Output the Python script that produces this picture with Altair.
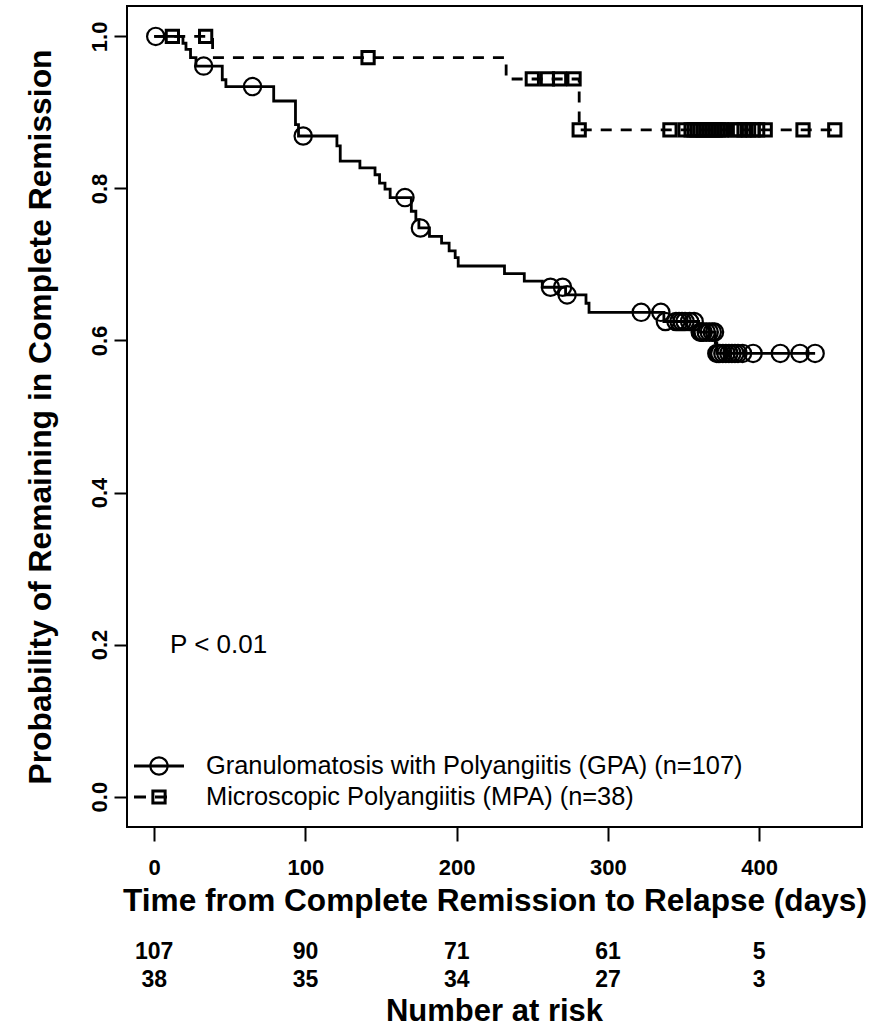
import altair as alt
import pandas as pd

# ---------------- data ----------------
# GPA Kaplan-Meier step curve
gpa_time = [0, 19, 21, 24, 27.6, 45, 47.4, 79, 93.4, 95.4, 120.8, 123, 136, 146, 149,
            152.6, 156, 170, 173, 175, 182, 190, 195, 199, 201, 231.6, 244.7, 256.6,
            272, 285.5, 287.5, 337, 360, 371, 372, 437]
gpa_surv = [1.0, 0.991, 0.983, 0.972, 0.961, 0.943, 0.934, 0.915, 0.884, 0.869, 0.856,
            0.836, 0.827, 0.818, 0.807, 0.799, 0.788, 0.770, 0.759, 0.748, 0.737, 0.728,
            0.718, 0.709, 0.698, 0.688, 0.678, 0.670, 0.660, 0.649, 0.637, 0.625, 0.611,
            0.597, 0.583, 0.583]
# GPA censored observations
gpa_cens_time = [1, 32.7, 65, 98.5, 165.8, 176, 262, 270, 273, 322, 335, 338, 345, 347,
                 349, 351, 354, 357, 361, 362, 363, 365, 367, 369, 370.5, 372, 373, 374,
                 376, 378, 380, 382, 384, 386, 389, 396, 414, 427, 437]
gpa_cens_surv = [1.0, 0.961, 0.934, 0.869, 0.788, 0.748, 0.670, 0.670, 0.660, 0.637,
                 0.637, 0.625, 0.625, 0.625, 0.625, 0.625, 0.625, 0.625, 0.611, 0.611,
                 0.611, 0.611, 0.611, 0.611, 0.611, 0.583, 0.583, 0.583, 0.583, 0.583,
                 0.583, 0.583, 0.583, 0.583, 0.583, 0.583, 0.583, 0.583, 0.583]

# MPA Kaplan-Meier step curve
mpa_time = [0, 38.6, 232.7, 281, 450]
mpa_surv = [1.0, 0.972, 0.944, 0.877, 0.877]
# MPA censored observations
mpa_cens_time = [12, 34, 141.4, 250, 260, 268, 277.6, 281, 341, 351, 355, 357, 359, 361,
                 363, 365, 367, 369, 371, 373, 375, 377, 384, 387, 390, 393, 396, 399,
                 404, 429, 450]
mpa_cens_surv = [1.0, 1.0, 0.972, 0.944, 0.944, 0.944, 0.944, 0.877, 0.877, 0.877, 0.877,
                 0.877, 0.877, 0.877, 0.877, 0.877, 0.877, 0.877, 0.877, 0.877, 0.877,
                 0.877, 0.877, 0.877, 0.877, 0.877, 0.877, 0.877, 0.877, 0.877, 0.877]

# Number at risk
risk_times = [0, 100, 200, 300, 400]
gpa_risk = [107, 90, 71, 61, 5]
mpa_risk = [38, 35, 34, 27, 3]

x_ticks = [0, 100, 200, 300, 400]
y_ticks = [0.0, 0.2, 0.4, 0.6, 0.8, 1.0]

legend_labels = ["Granulomatosis with Polyangiitis (GPA) (n=107)",
                 "Microscopic Polyangiitis (MPA) (n=38)"]
p_text = ["P < 0.01"]
p_pos_time = [10.5]
p_pos_prob = [0.2]

# ---------------- chart ----------------
FONT = "Liberation Sans"
W, H = 735, 821

gpa_df = pd.DataFrame({"time": gpa_time, "surv": gpa_surv})
gpa_c_df = pd.DataFrame({"time": gpa_cens_time, "surv": gpa_cens_surv})
mpa_df = pd.DataFrame({"time": mpa_time, "surv": mpa_surv})
mpa_c_df = pd.DataFrame({"time": mpa_cens_time, "surv": mpa_cens_surv})
risk_df = pd.DataFrame({"time": risk_times, "gpa": gpa_risk, "mpa": mpa_risk})
p_df = pd.DataFrame({"time": p_pos_time, "surv": p_pos_prob, "label": p_text})
leg1_df = pd.DataFrame({"label": [legend_labels[0]]})
leg2_df = pd.DataFrame({"label": [legend_labels[1]]})
nar_df = pd.DataFrame({"label": ["Number at risk"]})

xscale = alt.Scale(domain=[-18, 468], nice=False, zero=False)
yscale = alt.Scale(domain=[-0.04, 1.04], nice=False, zero=False)

xaxis = alt.Axis(values=x_ticks, format="d", title="Time from Complete Remission to Relapse (days)",
                 domain=False, grid=False, tickColor="black", tickWidth=2, tickSize=14,
                 labelFont=FONT, labelFontSize=22, labelFontWeight="bold", labelColor="black",
                 labelPadding=16, titleFont=FONT, titleFontSize=31.6, titleFontWeight="bold",
                 titleColor="black", titlePadding=7)
yaxis = alt.Axis(values=y_ticks, format=".1f", title="Probability of Remaining in Complete Remission",
                 domain=False, grid=False, tickColor="black", tickWidth=2, tickSize=13,
                 labelFont=FONT, labelFontSize=22, labelFontWeight="bold", labelColor="black",
                 labelAngle=270, labelAlign="center", labelBaseline="bottom", labelPadding=3,
                 titleFont=FONT, titleFontSize=31.8, titleFontWeight="bold", titleColor="black",
                 titlePadding=31)

X = alt.X("time:Q", scale=xscale, axis=xaxis)
Y = alt.Y("surv:Q", scale=yscale, axis=yaxis)

gpa_line = alt.Chart(gpa_df).mark_line(interpolate="step-after", color="black",
                                       strokeWidth=2.8).encode(x=X, y=Y)
mpa_line = alt.Chart(mpa_df).mark_line(interpolate="step-after", color="black",
                                       strokeWidth=2.8, strokeDash=[11, 9]).encode(x=X, y=Y)
gpa_pts = alt.Chart(gpa_c_df).mark_point(shape="circle", size=300, filled=False,
                                         color="black", strokeWidth=2.2, opacity=1).encode(x=X, y=Y)
mpa_pts = alt.Chart(mpa_c_df).mark_point(shape="square", size=150, filled=False,
                                         color="black", strokeWidth=3, opacity=1).encode(x=X, y=Y)

p_label = alt.Chart(p_df).mark_text(align="left", baseline="middle", font=FONT,
                                    fontSize=26, color="black").encode(x=X, y=Y, text="label:N")

# legend (drawn by hand, R style, no box)
leg_y1, leg_y2 = 760, 791
leg1_line = alt.Chart(leg1_df).mark_rule(color="black", strokeWidth=2.8).encode(
    x=alt.value(7), x2=alt.value(57), y=alt.value(leg_y1))
leg1_pt = alt.Chart(leg1_df).mark_point(shape="circle", size=300, filled=False, color="black",
                                        strokeWidth=2.2, opacity=1).encode(
    x=alt.value(32), y=alt.value(leg_y1))
leg1_txt = alt.Chart(leg1_df).mark_text(align="left", baseline="middle", font=FONT, fontSize=25.4,
                                        color="black").encode(
    x=alt.value(79), y=alt.value(leg_y1), text="label:N")
leg2_line = alt.Chart(leg2_df).mark_rule(color="black", strokeWidth=2.8, strokeDash=[12, 9]).encode(
    x=alt.value(7), x2=alt.value(42), y=alt.value(leg_y2))
leg2_pt = alt.Chart(leg2_df).mark_point(shape="square", size=150, filled=False, color="black",
                                        strokeWidth=3, opacity=1).encode(
    x=alt.value(32), y=alt.value(leg_y2))
leg2_txt = alt.Chart(leg2_df).mark_text(align="left", baseline="middle", font=FONT, fontSize=25.4,
                                        color="black").encode(
    x=alt.value(79), y=alt.value(leg_y2), text="label:N")

# number at risk table below the axis
risk_gpa = alt.Chart(risk_df).mark_text(baseline="middle", font=FONT, fontSize=23,
                                        fontWeight="bold", color="black").encode(
    x=alt.X("time:Q", scale=xscale), y=alt.value(946), text="gpa:Q")
risk_mpa = alt.Chart(risk_df).mark_text(baseline="middle", font=FONT, fontSize=23,
                                        fontWeight="bold", color="black").encode(
    x=alt.X("time:Q", scale=xscale), y=alt.value(974), text="mpa:Q")
risk_title = alt.Chart(nar_df).mark_text(baseline="middle", font=FONT, fontSize=31,
                                         fontWeight="bold", color="black").encode(
    x=alt.value(W / 2), y=alt.value(1006), text="label:N")

chart = alt.layer(
    gpa_line, mpa_line, gpa_pts, mpa_pts, p_label,
    leg1_line, leg1_pt, leg1_txt, leg2_line, leg2_pt, leg2_txt,
    risk_gpa, risk_mpa, risk_title
).properties(
    width=W, height=H,
    autosize=alt.AutoSizeParams(type="none"),
    padding={"left": 127, "top": 6, "right": 10, "bottom": 209},
    background="white"
).configure_view(
    stroke="black", strokeWidth=2
)

chart.save("out.html", embed_options={"renderer": "svg", "actions": False})
